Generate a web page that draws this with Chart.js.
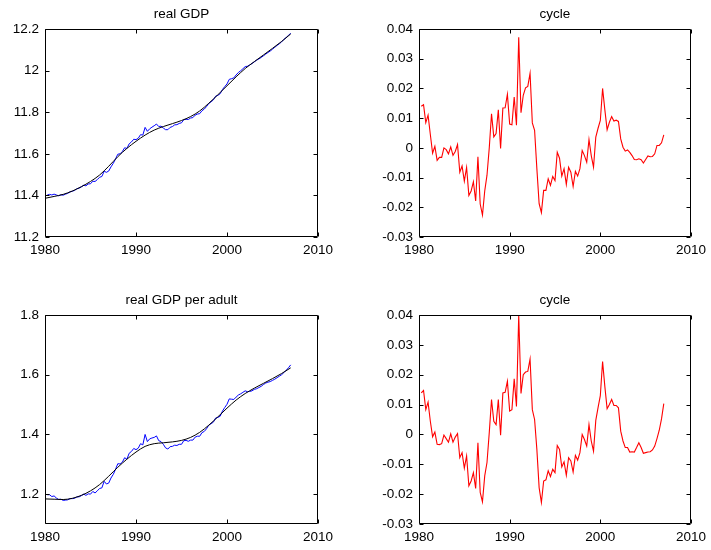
<!DOCTYPE html>
<html>
<head>
<meta charset="utf-8">
<script src="https://cdn.jsdelivr.net/npm/chart.js@4.4.1/dist/chart.umd.min.js"></script>
<style>
  html, body { margin: 0; padding: 0; background: #fff; }
  #wrap { position: relative; width: 711px; height: 550px; overflow: hidden; }
  .panel { position: absolute; }
  canvas { display: block; }
</style>
</head>
<body>
<div id="wrap">
  <div class="panel" style="left:0;top:0;"><canvas id="gdp" width="360" height="275"></canvas></div>
  <div class="panel" style="left:360px;top:0;"><canvas id="gdpCycle" width="351" height="275"></canvas></div>
  <div class="panel" style="left:0;top:275px;"><canvas id="adult" width="360" height="275"></canvas></div>
  <div class="panel" style="left:360px;top:275px;"><canvas id="adultCycle" width="351" height="275"></canvas></div>
</div>
<script>
// Quarterly observations, 1980Q2 .. 2007Q1 (log levels and HP cycles)
const firstQuarter = 1980.25;
const quarterCount = 108;
const quarters = Array.from({ length: quarterCount }, (_, i) => firstQuarter + 0.25 * i);

// Smooth trends, one value per year
const trendYears = [1980, 1981, 1982, 1983, 1984, 1985, 1986, 1987, 1988, 1989,
  1990, 1991, 1992, 1993, 1994, 1995, 1996, 1997, 1998, 1999,
  2000, 2001, 2002, 2003, 2004, 2005, 2006, 2007];

const gdp = [11.402, 11.405, 11.402, 11.406, 11.402, 11.398, 11.403, 11.401, 11.406, 11.410,
  11.417, 11.420, 11.424, 11.432, 11.435, 11.441, 11.449, 11.446, 11.455, 11.456,
  11.468, 11.467, 11.476, 11.487, 11.491, 11.516, 11.511, 11.517, 11.537, 11.554,
  11.575, 11.598, 11.600, 11.611, 11.629, 11.626, 11.648, 11.657, 11.670, 11.668,
  11.675, 11.692, 11.690, 11.727, 11.708, 11.720, 11.728, 11.735, 11.743, 11.731,
  11.733, 11.724, 11.716, 11.716, 11.727, 11.731, 11.739, 11.740, 11.746, 11.749,
  11.764, 11.766, 11.765, 11.772, 11.774, 11.786, 11.791, 11.793, 11.807, 11.815,
  11.827, 11.842, 11.850, 11.859, 11.877, 11.881, 11.889, 11.909, 11.923, 11.936,
  11.958, 11.961, 11.965, 11.979, 11.991, 11.999, 12.009, 12.019, 12.021, 12.027,
  12.034, 12.042, 12.050, 12.056, 12.063, 12.071, 12.079, 12.087, 12.094, 12.103,
  12.112, 12.121, 12.129, 12.138, 12.150, 12.159, 12.169, 12.180];

const gdpTrend = [11.386, 11.395, 11.405, 11.421, 11.442, 11.467, 11.498, 11.540, 11.586, 11.626,
  11.660, 11.690, 11.714, 11.731, 11.745, 11.760, 11.779, 11.806, 11.843, 11.884,
  11.927, 11.970, 12.010, 12.043, 12.075, 12.107, 12.140, 12.176];

const gdpCycle = [0.0140, 0.0145, 0.0085, 0.0110, 0.0045, -0.0018, 0.0005, -0.0042, -0.0032, -0.0032,
  0.0000, -0.0006, -0.0020, 0.0003, -0.0025, -0.0012, 0.0011, -0.0082, -0.0061, -0.0112,
  -0.0066, -0.0160, -0.0145, -0.0114, -0.0179, -0.0030, -0.0189, -0.0226, -0.0145, -0.0092,
  0.0000, 0.0115, 0.0037, 0.0048, 0.0128, -0.0002, 0.0134, 0.0135, 0.0180, 0.0080,
  0.0078, 0.0171, 0.0076, 0.0372, 0.0118, 0.0177, 0.0202, 0.0207, 0.0251, 0.0084,
  0.0059, -0.0070, -0.0188, -0.0218, -0.0143, -0.0143, -0.0104, -0.0126, -0.0096, -0.0110,
  -0.0015, -0.0035, -0.0095, -0.0070, -0.0123, -0.0065, -0.0082, -0.0130, -0.0079, -0.0095,
  -0.0070, -0.0009, -0.0026, -0.0048, 0.0028, -0.0026, -0.0065, 0.0036, 0.0066, 0.0092,
  0.0200, 0.0128, 0.0061, 0.0086, 0.0105, 0.0090, 0.0093, 0.0089, 0.0030, 0.0002,
  -0.0011, -0.0007, -0.0015, -0.0026, -0.0039, -0.0040, -0.0037, -0.0040, -0.0051, -0.0039,
  -0.0027, -0.0030, -0.0029, -0.0020, 0.0008, 0.0008, 0.0017, 0.0044];

const gdpPerAdult = [1.198, 1.198, 1.192, 1.194, 1.187, 1.182, 1.183, 1.179, 1.180, 1.181,
  1.185, 1.185, 1.186, 1.191, 1.191, 1.195, 1.200, 1.196, 1.201, 1.200,
  1.209, 1.204, 1.211, 1.219, 1.221, 1.243, 1.234, 1.237, 1.254, 1.266,
  1.283, 1.302, 1.301, 1.307, 1.322, 1.317, 1.337, 1.343, 1.353, 1.349,
  1.354, 1.369, 1.365, 1.400, 1.376, 1.385, 1.388, 1.390, 1.395, 1.379,
  1.376, 1.367, 1.355, 1.351, 1.359, 1.360, 1.364, 1.363, 1.367, 1.367,
  1.379, 1.380, 1.377, 1.381, 1.381, 1.391, 1.394, 1.394, 1.406, 1.410,
  1.419, 1.431, 1.436, 1.441, 1.455, 1.457, 1.461, 1.478, 1.490, 1.501,
  1.519, 1.518, 1.517, 1.525, 1.532, 1.536, 1.541, 1.546, 1.543, 1.544,
  1.546, 1.551, 1.553, 1.557, 1.561, 1.567, 1.572, 1.575, 1.577, 1.581,
  1.585, 1.590, 1.595, 1.600, 1.607, 1.615, 1.623, 1.633];

const perAdultTrend = [1.184, 1.183, 1.182, 1.186, 1.196, 1.211, 1.232, 1.260, 1.290, 1.317,
  1.341, 1.360, 1.369, 1.372, 1.375, 1.380, 1.390, 1.407, 1.431, 1.459,
  1.488, 1.515, 1.537, 1.555, 1.571, 1.587, 1.604, 1.623];

const perAdultCycle = [0.0139, 0.0147, 0.0083, 0.0108, 0.0044, -0.0008, 0.0008, -0.0033, -0.0034, -0.0031,
  -0.0002, -0.0014, -0.0026, 0.0002, -0.0026, -0.0009, 0.0003, -0.0078, -0.0061, -0.0113,
  -0.0072, -0.0172, -0.0156, -0.0128, -0.0181, -0.0028, -0.0194, -0.0226, -0.0139, -0.0094,
  0.0006, 0.0117, 0.0044, 0.0033, 0.0117, -0.0003, 0.0139, 0.0141, 0.0178, 0.0078,
  0.0083, 0.0186, 0.0094, 0.0400, 0.0137, 0.0200, 0.0209, 0.0211, 0.0252, 0.0083,
  0.0050, -0.0050, -0.0178, -0.0228, -0.0156, -0.0152, -0.0122, -0.0141, -0.0117, -0.0128,
  -0.0037, -0.0050, -0.0109, -0.0092, -0.0137, -0.0078, -0.0089, -0.0126, -0.0070, -0.0086,
  -0.0061, 0.0000, -0.0017, -0.0039, 0.0033, -0.0022, -0.0056, 0.0047, 0.0090, 0.0130,
  0.0244, 0.0160, 0.0086, 0.0100, 0.0117, 0.0097, 0.0097, 0.0089, 0.0011, -0.0022,
  -0.0044, -0.0044, -0.0059, -0.0058, -0.0059, -0.0044, -0.0028, -0.0044, -0.0063, -0.0061,
  -0.0059, -0.0058, -0.0052, -0.0039, -0.0014, 0.0014, 0.0052, 0.0103];

// Axis ticks and their printed labels
const yearTicks = [1980, 1990, 2000, 2010];
const yearTickLabels = ['1980', '1990', '2000', '2010'];
const gdpTicks = [11.2, 11.4, 11.6, 11.8, 12, 12.2];
const gdpTickLabels = ['11.2', '11.4', '11.6', '11.8', '12', '12.2'];
const perAdultTicks = [1.2, 1.4, 1.6, 1.8];
const perAdultTickLabels = ['1.2', '1.4', '1.6', '1.8'];
const cycleTicks = [-0.03, -0.02, -0.01, 0, 0.01, 0.02, 0.03, 0.04];
const cycleTickLabels = ['-0.03', '-0.02', '-0.01', '0', '0.01', '0.02', '0.03', '0.04'];

const FONT = "'Liberation Sans', Arial, Helvetica, sans-serif";
Chart.defaults.color = '#000';
Chart.defaults.font.family = FONT;
Chart.defaults.font.size = 13.5;

const pairs = (xs, ys) => ys.map((y, i) => ({ x: xs[i], y }));

// Box around the axes, inward tick marks on all four sides, and the title
const boxedAxes = {
  id: 'boxedAxes',
  afterDatasetsDraw(chart, args, opts) {
    const { ctx, chartArea: a, scales } = chart;
    const L = Math.round(a.left) + 0.5, R = Math.round(a.right) - 0.5;
    const T = Math.round(a.top) + 0.5, B = Math.round(a.bottom) - 0.5;
    const len = 4;
    ctx.save();
    ctx.strokeStyle = '#000';
    ctx.lineWidth = 1;
    ctx.beginPath();
    ctx.rect(L, T, R - L, B - T);
    scales.x.ticks.forEach(t => {
      const px = Math.round(scales.x.getPixelForValue(t.value)) + 0.5;
      ctx.moveTo(px, B); ctx.lineTo(px, B - len);
      ctx.moveTo(px, T); ctx.lineTo(px, T + len);
    });
    scales.y.ticks.forEach(t => {
      const py = Math.round(scales.y.getPixelForValue(t.value)) + 0.5;
      ctx.moveTo(L, py); ctx.lineTo(L + len, py);
      ctx.moveTo(R, py); ctx.lineTo(R - len, py);
    });
    ctx.stroke();
    ctx.fillStyle = '#000';
    ctx.font = '13.5px ' + FONT;
    ctx.textAlign = 'center';
    ctx.textBaseline = 'middle';
    ctx.fillText(opts.text, (a.left + a.right) / 2, a.top - 15);
    ctx.restore();
  }
};

function fixedTicks(values, labels) {
  return {
    afterBuildTicks(scale) { scale.ticks = values.map(v => ({ value: v })); },
    callback(value) {
      const k = values.findIndex(v => Math.abs(v - value) < 1e-9);
      return k >= 0 ? labels[k] : '';
    }
  };
}

function panel(canvasId, title, datasets, yMin, yMax, yTicks, yLabels, box) {
  const yt = fixedTicks(yTicks, yLabels);
  const xt = fixedTicks(yearTicks, yearTickLabels);
  return new Chart(document.getElementById(canvasId), {
    type: 'line',
    data: { datasets },
    options: {
      responsive: false,
      animation: false,
      devicePixelRatio: 1,
      events: [],
      layout: { padding: { left: 0, top: box.top, right: box.right, bottom: box.bottom } },
      plugins: { legend: { display: false }, tooltip: { enabled: false }, boxedAxes: { text: title } },
      elements: { point: { radius: 0 }, line: { borderWidth: 1 } },
      scales: {
        x: {
          type: 'linear', min: 1980, max: 2010,
          grid: { display: false, drawTicks: false }, border: { display: false },
          afterBuildTicks: xt.afterBuildTicks,
          afterFit(s) { s.height = 26; },
          ticks: { callback: xt.callback, padding: 5, maxRotation: 0, autoSkip: false }
        },
        y: {
          type: 'linear', min: yMin, max: yMax,
          grid: { display: false, drawTicks: false }, border: { display: false },
          afterBuildTicks: yt.afterBuildTicks,
          afterFit(s) { s.width = box.left; },
          ticks: { callback: yt.callback, padding: 6, autoSkip: false }
        }
      }
    },
    plugins: [boxedAxes]
  });
}

const trendStyle = { borderColor: '#000', borderWidth: 1, cubicInterpolationMode: 'monotone', order: 0 };
const levelStyle = { borderColor: '#0000ff', borderWidth: 1, tension: 0, order: 1 };
const cycleStyle = { borderColor: '#ff0000', borderWidth: 1.1, tension: 0 };

panel('gdp', 'real GDP', [
  Object.assign({ data: pairs(trendYears, gdpTrend) }, trendStyle),
  Object.assign({ data: pairs(quarters, gdp) }, levelStyle)
], 11.2, 12.2, gdpTicks, gdpTickLabels, { left: 45, top: 29, right: 42, bottom: 12 });

panel('gdpCycle', 'cycle', [
  Object.assign({ data: pairs(quarters, gdpCycle) }, cycleStyle)
], -0.03, 0.04, cycleTicks, cycleTickLabels, { left: 59, top: 29, right: 18, bottom: 12 });

panel('adult', 'real GDP per adult', [
  Object.assign({ data: pairs(trendYears, perAdultTrend) }, trendStyle),
  Object.assign({ data: pairs(quarters, gdpPerAdult) }, levelStyle)
], 1.1, 1.8, perAdultTicks, perAdultTickLabels, { left: 45, top: 40, right: 42, bottom: 0 });

panel('adultCycle', 'cycle', [
  Object.assign({ data: pairs(quarters, perAdultCycle) }, cycleStyle)
], -0.03, 0.04, cycleTicks, cycleTickLabels, { left: 59, top: 40, right: 18, bottom: 0 });
</script>
</body>
</html>
